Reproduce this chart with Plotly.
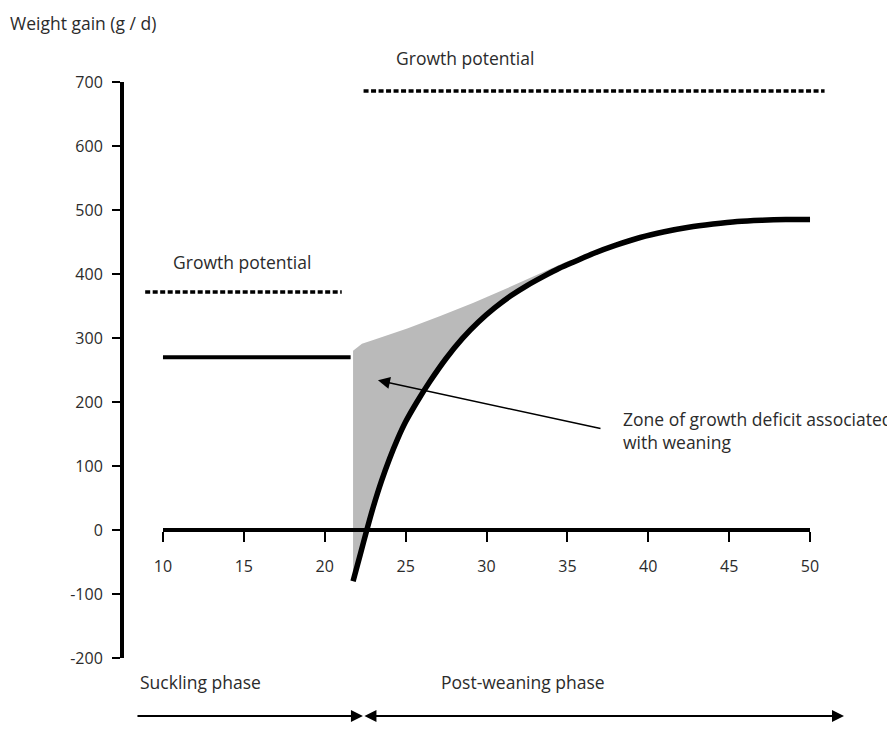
import plotly.graph_objects as go

# ---------------- data ----------------
x_tick_values = [10, 15, 20, 25, 30, 35, 40, 45, 50]
y_tick_values = [700, 600, 500, 400, 300, 200, 100, 0, -100, -200]
y_tick_labels = ["700", "600", "500", "400", "300", "200", "100", "0", "-100", "-200"]

suckling_days = [10, 21.6]
suckling_gain = [270, 270]

suckling_potential_days = [8.9, 21.05]
suckling_potential_gain = [372, 372]

postweaning_potential_days = [22.4, 50.9]
postweaning_potential_gain = [686, 686]

postweaning_days = [21.75, 22.2, 22.6, 23.0, 23.5, 24.0, 24.5, 25.0, 25.7, 26.5, 27.5, 28.5,
                    29.5, 30.5, 31.5, 32.5, 33.5, 34.5, 35.5, 36.6, 38.0, 39.5, 41.0, 42.5,
                    44.0, 45.5, 47.0, 48.5, 50.0]
postweaning_gain = [-80, -38, 0, 36, 76, 111, 142, 169, 200, 232, 268, 299,
                    325, 347, 366, 382, 396, 409, 420, 432, 445, 457, 466, 473,
                    478, 482, 484, 485, 485]

deficit_upper_days = [21.75, 22.3, 23.0, 25.1, 27.1, 29.2, 31.2, 33.3, 35.0, 36.6]
deficit_upper_gain = [280, 291, 297, 315, 334, 355, 377, 401, 420, 433]

weaning_day = 22.36
phase_start_day = 8.33
phase_end_day = 52.1

# ---------------- geometry helpers ----------------
X_RANGE = [7.59, 53.09]
Y_RANGE = [-200, 700]
FONT = "Open Sans"
TXT = "#2b2b2b"
TEXT_SIZE = 17.5
TICK_SIZE = 16

def xfrac(v):
    return (v - X_RANGE[0]) / (X_RANGE[1] - X_RANGE[0])

def yfrac(v):
    return (v - Y_RANGE[0]) / (Y_RANGE[1] - Y_RANGE[0])

# polygon of the deficit zone: upper edge then back along the curve
curve_part = [(d, g) for d, g in zip(postweaning_days, postweaning_gain) if d <= deficit_upper_days[-1]]
zone_x = deficit_upper_days + [d for d, _ in reversed(curve_part)]
zone_y = deficit_upper_gain + [g for _, g in reversed(curve_part)]

fig = go.Figure()

fig.add_trace(go.Scatter(x=zone_x, y=zone_y, mode="lines", fill="toself",
                         fillcolor="#bababa", line=dict(width=0, color="#bababa"),
                         hoverinfo="skip", showlegend=False))

fig.add_trace(go.Scatter(x=suckling_potential_days, y=suckling_potential_gain, mode="lines",
                         line=dict(color="black", width=3.5, dash="5px,2.5px"),
                         showlegend=False))
fig.add_trace(go.Scatter(x=postweaning_potential_days, y=postweaning_potential_gain, mode="lines",
                         line=dict(color="black", width=3.5, dash="5px,2.5px"),
                         showlegend=False))
fig.add_trace(go.Scatter(x=suckling_days, y=suckling_gain, mode="lines",
                         line=dict(color="black", width=4), showlegend=False))
fig.add_trace(go.Scatter(x=postweaning_days, y=postweaning_gain, mode="lines",
                         line=dict(color="black", width=5.5, shape="spline", smoothing=0.8),
                         showlegend=False))

# invisible trace carrying the day axis drawn at y = 0
fig.add_trace(go.Scatter(x=[x_tick_values[0], x_tick_values[-1]], y=[0, 0], xaxis="x2", yaxis="y",
                         mode="markers", marker=dict(opacity=0), hoverinfo="skip", showlegend=False))

tfont = dict(size=TEXT_SIZE, color=TXT, family=FONT)
annotations = [
    dict(text="Weight gain (g / d)", xref="paper", yref="paper", x=-0.1576, y=1.1024,
         xanchor="left", yanchor="middle", showarrow=False, font=tfont),
    dict(text="Growth potential", xref="x", yref="y", x=14.87, y=419,
         xanchor="center", yanchor="middle", showarrow=False, font=tfont),
    dict(text="Growth potential", xref="x", yref="paper", x=28.67, y=1.0417,
         xanchor="center", yanchor="middle", showarrow=False, font=tfont),
    dict(text="Zone of growth deficit associated<br>with weaning", xref="x", yref="y", x=38.33, y=156,
         xanchor="left", yanchor="middle", align="left", showarrow=False, font=tfont),
    dict(text="", xref="x", yref="y", x=23.29, y=234, axref="x", ayref="y", ax=37.14, ay=158,
         showarrow=True, arrowhead=2, arrowsize=1.6, arrowwidth=1.5, arrowcolor="black"),
    dict(text="Suckling phase", xref="x", yref="paper", x=8.45, y=-0.0411,
         xanchor="left", yanchor="middle", showarrow=False, font=tfont),
    dict(text="Post-weaning phase", xref="x", yref="paper", x=27.06, y=-0.0411,
         xanchor="left", yanchor="middle", showarrow=False, font=tfont),
    dict(text="", xref="x", yref="paper", x=weaning_day, y=-0.1007, axref="x", ayref="pixel",
         ax=phase_start_day, ay=0, showarrow=True, arrowhead=2, arrowsize=1.2, arrowwidth=2,
         arrowcolor="black"),
    dict(text="", xref="x", yref="paper", x=phase_end_day, y=-0.1007, axref="x", ayref="pixel",
         ax=weaning_day, ay=0, showarrow=True, arrowside="end+start", arrowhead=2, startarrowhead=2,
         arrowsize=1.2, startarrowsize=1.2, arrowwidth=2, arrowcolor="black"),
]

# page body has an 8px default margin: the figure is sized/offset to compensate
fig.update_layout(
    width=887, height=721,
    margin=dict(l=116, r=35, t=74, b=71),
    paper_bgcolor="white", plot_bgcolor="rgba(0,0,0,0)",
    showlegend=False,
    font=dict(family=FONT, color=TXT, size=TICK_SIZE),
    xaxis=dict(range=X_RANGE, domain=[0, 1], visible=False, showgrid=False, zeroline=False),
    xaxis2=dict(range=[x_tick_values[0], x_tick_values[-1]],
                domain=[xfrac(x_tick_values[0]), xfrac(x_tick_values[-1])],
                anchor="free", position=yfrac(0), side="bottom",
                showline=True, linewidth=4, linecolor="black",
                ticks="outside", ticklen=10, tickwidth=2, tickcolor="black",
                tickvals=x_tick_values, showgrid=False, zeroline=False,
                ticklabelstandoff=11, tickfont=dict(size=TICK_SIZE, color=TXT, family=FONT)),
    yaxis=dict(range=Y_RANGE, anchor="x", showline=True, linewidth=4, linecolor="black",
               ticks="outside", ticklen=8, tickwidth=2, tickcolor="black",
               tickvals=y_tick_values, ticktext=y_tick_labels, showgrid=False, zeroline=False,
               ticklabelstandoff=6, tickfont=dict(size=TICK_SIZE, color=TXT, family=FONT)),
    annotations=annotations,
)

fig.write_html("out.html")
